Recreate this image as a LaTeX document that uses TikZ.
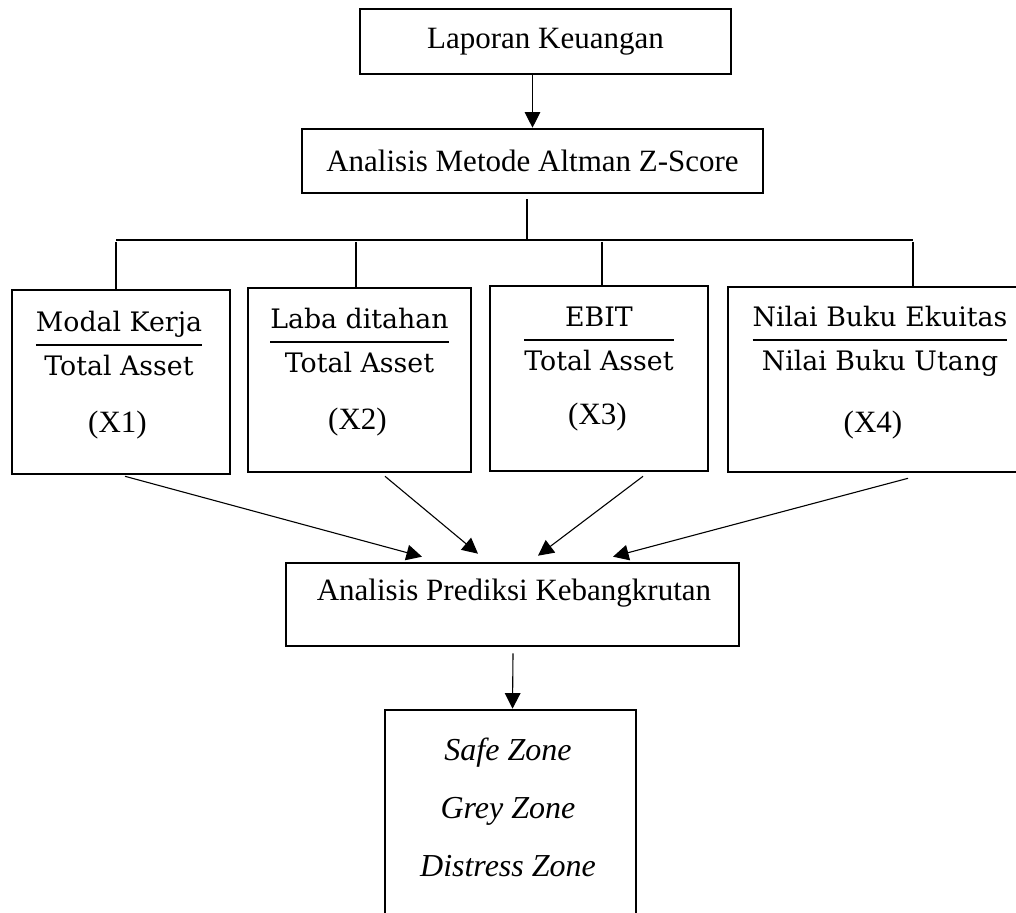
\documentclass[tikz,border=0pt]{standalone}
\usepackage{fontspec}
\setmainfont{Liberation Serif}
\newfontfamily\ratiofont{DejaVu Serif}
\usetikzlibrary{arrows.meta,calc}

\newcommand{\ratio}[2]{{\ratiofont\setlength{\arrayrulewidth}{1.2pt}\renewcommand{\arraystretch}{1.3}%
\begin{tabular}{@{}c@{}}#1\\\hline #2\end{tabular}}}

\tikzset{
  box/.style={draw, line width=1.3pt, inner sep=0pt},
  link/.style={line width=0.55pt},
  arrow/.style={link, -{Triangle[length=7.8pt,width=7.8pt]}},
  txt/.style={font=\fontsize{15.5}{18}\selectfont, inner sep=0pt},
  frac/.style={font=\fontsize{13.4}{16.3}\selectfont, inner sep=0pt}
}

\begin{document}
\begin{tikzpicture}[x=0.5pt,y=-0.5pt]
		\useasboundingbox (0,0) rectangle (1016,913);

		% top of the chart
		\node [box, txt, minimum width=185.5pt, minimum height=32.5pt] (lap) at (545.5,41.5) {Laporan Keuangan};
		\node [box, txt, minimum width=230.5pt, minimum height=32pt] (alt) at (532.5,161) {Analisis Metode Altman Z-Score};
		\draw [arrow] (lap.south -| alt.north) -- (alt.north);

		% ratio boxes
		\node [box, minimum width=109pt, minimum height=92pt] (x1) at (121,382) {};
		\node [box, minimum width=111.5pt, minimum height=92pt] (x2) at (359.5,380) {};
		\node [box, minimum width=109pt, minimum height=92.5pt] (x3) at (599,378.5) {};
		\node [box, minimum width=151pt, minimum height=92.5pt] (x4) at (879,379.5) {};

		\node [frac] (r1) at (119,345) {\ratio{Modal Kerja}{Total Asset}};
		\node [frac] (r2) at (359.5,342) {\ratio{Laba ditahan}{Total Asset}};
		\node [frac] (r3) at (599,340) {\ratio{EBIT}{Total Asset}};
		\node [frac] (r4) at (880,340) {\ratio{Nilai Buku Ekuitas}{Nilai Buku Utang}};

		\node [txt] (v1) at (117.5,425) {(X1)};
		\node [txt] (v2) at (357.5,422) {(X2)};
		\node [txt] (v3) at (597.5,417) {(X3)};
		\node [txt] (v4) at (873,425) {(X4)};

		% branches
		\coordinate (hub) at (527,240);
		\coordinate (d1) at (116,240);
		\coordinate (d2) at (356,240);
		\coordinate (d3) at (602,240);
		\coordinate (d4) at (913,240);
		\draw [link] ($(alt.south)+(-5.5,5)$) -- (hub);
		\draw [link] (d1) -- (d4);
		\draw [link] ($(d1)+(0,2)$) -- (d1 |- x1.north);
		\draw [link] ($(d2)+(0,2)$) -- (d2 |- x2.north);
		\draw [link] ($(d3)+(0,2)$) -- (d3 |- x3.north);
		\draw [link] ($(d4)+(0,2)$) -- (d4 |- x4.north);

		% prediction
		\node [box, minimum width=226.5pt, minimum height=41.5pt] (pred) at (512.5,604.5) {};
		\node [txt] (predtxt) at (514,593) {Analisis Prediksi Kebangkrutan};

		\draw [arrow] ($(x1.south)+(4,1)$) -- ($(pred.north)+(-90.5,-5)$);
		\draw [arrow] ($(x2.south)+(25.5,3)$) -- ($(pred.north)+(-34.5,-8)$);
		\draw [arrow] ($(x3.south)+(44,4)$) -- ($(pred.north)+(25.5,-6)$);
		\draw [arrow] ($(x4.south)+(29,5)$) -- ($(pred.north)+(100.5,-5)$);

		% zones
		\node [box, minimum width=125.5pt, minimum height=110pt] (zones) at (510.5,820) {};
		\node [txt, font=\fontsize{16}{29}\selectfont\itshape, align=center] (zonetxt) at (508,807) {Safe Zone\\Grey Zone\\Distress Zone};
		\draw [arrow] ($(pred.south)+(0.5,6)$) -- (pred.south |- zones.north);

\end{tikzpicture}
\end{document}
